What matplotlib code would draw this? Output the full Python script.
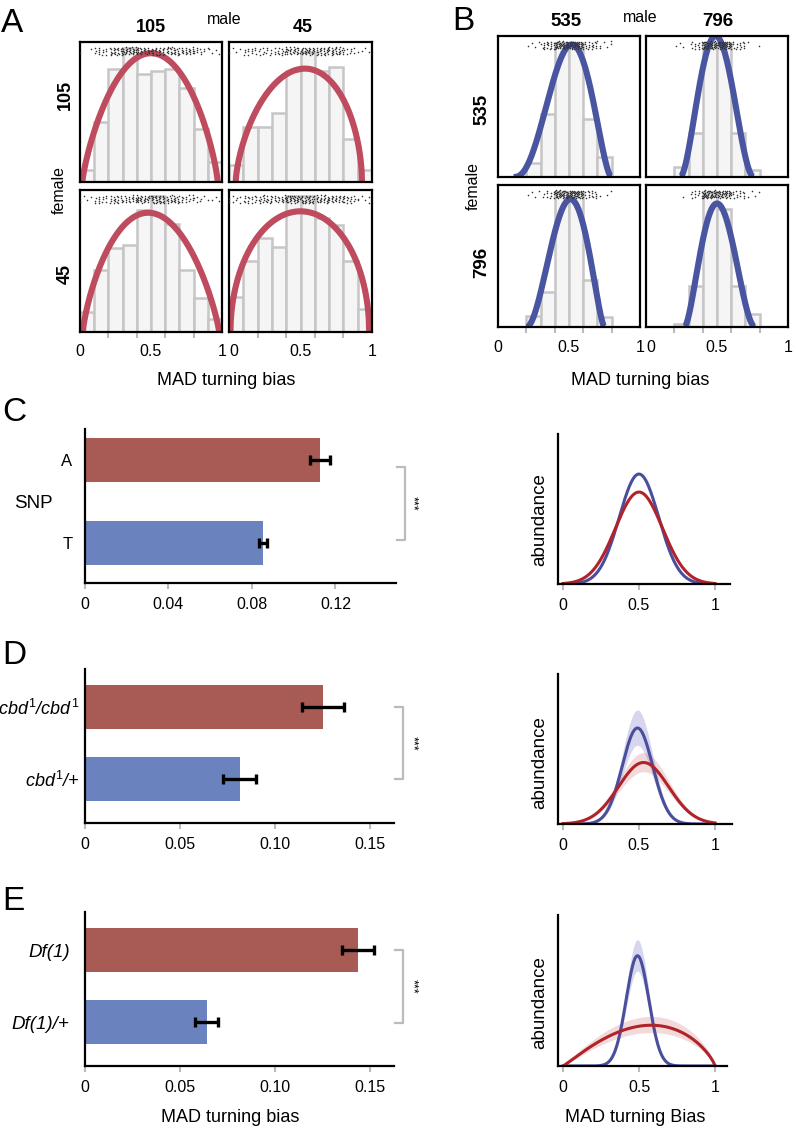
import numpy as np
import matplotlib
matplotlib.use('Agg')
import matplotlib.pyplot as plt
from matplotlib.transforms import blended_transform_factory

plt.rcParams['font.family'] = ['Liberation Sans', 'DejaVu Sans']
plt.rcParams['mathtext.fontset'] = 'custom'
plt.rcParams['mathtext.rm'] = 'Liberation Sans'
plt.rcParams['mathtext.it'] = 'Liberation Sans:italic'

W, H = 796, 1130

# ---------------- data ----------------
# histogram bins used in A and B (fraction of facet height per bin)
bin_edges = np.round(np.arange(0, 1.01, 0.1), 2)

# panel A (rows: female 105 / 45, cols: male 105 / 45)
lines_A = ['105', '45']
hist_A_105_105 = [0.083, 0.43, 0.81, 0.96, 0.77, 0.79, 0.81, 0.67, 0.38, 0.14]
hist_A_105_45 = [0.12, 0.39, 0.39, 0.49, 0.79, 0.93, 0.79, 0.82, 0.31, 0.088]
hist_A_45_105 = [0.14, 0.44, 0.59, 0.61, 0.86, 0.96, 0.76, 0.44, 0.24, 0.094]
hist_A_45_45 = [0.25, 0.50, 0.66, 0.60, 0.96, 0.96, 0.80, 0.75, 0.50, 0.16]
# fitted curve: left root, right root, mode, concentration, peak
fit_A_105_105 = (0.016, 0.97, 0.50, 0.80, 0.92)
fit_A_105_45 = (0.047, 0.93, 0.53, 0.60, 0.81)
fit_A_45_105 = (0.02, 0.98, 0.48, 0.80, 0.84)
fit_A_45_45 = (0.01, 0.98, 0.50, 0.50, 0.85)

# panel B (rows: female 535 / 796, cols: male 535 / 796)
lines_B = ['535', '796']
hist_B_535_535 = [0, 0, 0.10, 0.45, 0.95, 0.95, 0.41, 0.14, 0, 0]
hist_B_535_796 = [0, 0, 0.07, 0.31, 0.95, 0.95, 0.31, 0.05, 0, 0]
hist_B_796_535 = [0, 0, 0.08, 0.25, 0.95, 0.95, 0.33, 0.07, 0, 0]
hist_B_796_796 = [0, 0, 0.02, 0.29, 0.95, 0.83, 0.29, 0.09, 0, 0]
fit_B_535_535 = (0.11, 0.80, 0.52, 2.2, 0.94)
fit_B_535_796 = (0.24, 0.76, 0.49, 2.0, 1.00)
fit_B_796_535 = (0.20, 0.75, 0.51, 1.8, 0.90)
fit_B_796_796 = (0.27, 0.77, 0.50, 1.9, 0.87)

# panels C-E: MAD turning bias, mean and error
snp_labels = ['A', 'T']
snp_mean = [0.1126, 0.0854]
snp_err = [0.005, 0.002]

cbd_labels = [r'$cbd^{\mathit{1}}$/$cbd^{\mathit{1}}$', r'$cbd^{\mathit{1}}$/+']
cbd_mean = [0.125, 0.0814]
cbd_err = [0.011, 0.0087]

df_labels = ['Df(1)', 'Df(1)/+']
df_mean = [0.1435, 0.0639]
df_err = [0.0084, 0.0060]

# density curves (center, sd, peak as fraction of axis height)
dens_C_blue = (0.50, 0.130, 0.733)
dens_C_red = (0.50, 0.155, 0.613)
dens_D_blue = (0.49, 0.100, 0.64)
dens_D_red = (0.53, 0.165, 0.41)
dens_E_blue = (0.49, 0.074, 0.73)
dens_E_red = (0.0, 1.0, 0.58, 0.95, 0.27)   # beta-like shape
band_D = (0.18, 0.15)   # relative band width blue, red
band_E = (0.14, 0.18)

# ---------------- styles ----------------
RED_BAR = '#a85a54'
BLUE_BAR = '#6a82be'
RED_A = '#be4b5e'
BLUE_B = '#4a55a2'
BLUE_D = '#4a4e9c'
RED_D = '#b0232a'


def ax_px(l, t, r, b):
    return fig.add_axes([l / W, 1 - b / H, (r - l) / W, (b - t) / H])


def ftext(x, y, s, **kw):
    kw.setdefault('ha', 'center')
    kw.setdefault('va', 'center')
    fig.text(x / W, 1 - y / H, s, **kw)


def bump(x, l, r, m, k, peak):
    ka = k * 2 * (m - l) / (r - l)
    kb = k * 2 * (r - m) / (r - l)
    y = np.zeros_like(x)
    ins = (x > l) & (x < r)
    y[ins] = peak * ((x[ins] - l) / (m - l)) ** ka * ((r - x[ins]) / (r - m)) ** kb
    return y


def gauss(x, mu, sd, peak):
    return peak * np.exp(-(x - mu) ** 2 / (2 * sd ** 2))


def dots_from_hist(heights, per_unit):
    # one dot per observation, spread inside its bin (deterministic layout)
    xs = []
    for i, h in enumerate(heights):
        n = int(round(h * per_unit))
        if n:
            off = (np.arange(n) * 0.7548777 + 0.31 * i) % 1
            xs += list(bin_edges[i] + off * 0.1)
    xs = np.array(xs)
    jit = (np.arange(len(xs)) * 0.5698403 + 0.2) % 1
    return xs, jit


def facet(box, heights, fit, color, per_unit, bottom, col):
    ax = ax_px(*box)
    heights = np.array(heights)
    keep = heights > 0
    ax.bar(bin_edges[:-1][keep], heights[keep], width=0.1, align='edge',
           facecolor='#f5f5f5', edgecolor='#c6c6c6', lw=1.8, zorder=1)
    xc = np.linspace(fit[0], fit[1], 400)
    ax.plot(xc, bump(xc, *fit), color=color, lw=4.4, zorder=2,
            solid_capstyle='butt')
    xs, jit = dots_from_hist(heights, per_unit)
    ax.scatter(xs, 0.935 + (jit - 0.5) * 0.055, s=1.3, c='#333333', lw=0,
               zorder=3)
    ax.set_xlim(0, 1)
    ax.set_ylim(0, 1)
    for s in ax.spines.values():
        s.set_linewidth(1.6)
    ax.set_yticks([])
    if bottom:
        ax.set_xticks([0, 0.5, 1], ['0', '0.5', '1'])
        ax.set_xticks(np.arange(0, 1.01, 0.2), minor=True)
        ax.tick_params(axis='x', which='major', length=0, pad=9,
                       labelsize=11.5)
        ax.tick_params(axis='x', which='minor', length=4, width=1.5,
                       color='#bbbbbb')
        if col == 1:
            ax.get_xticklabels()[0].set_horizontalalignment('left')
    else:
        ax.set_xticks([])
    return ax


fig = plt.figure(figsize=(W / 100, H / 100), dpi=100)

# ---------------- panel A ----------------
colsA = [(80, 222), (229, 372)]
rowsA = [(42, 182), (190, 332)]
histsA = [[hist_A_105_105, hist_A_105_45], [hist_A_45_105, hist_A_45_45]]
fitsA = [[fit_A_105_105, fit_A_105_45], [fit_A_45_105, fit_A_45_45]]
for i, (t, b) in enumerate(rowsA):
    for j, (l, r) in enumerate(colsA):
        facet((l, t, r, b), histsA[i][j], fitsA[i][j], RED_A, 30, i == 1, j)
ftext(1, 23, 'A', fontsize=24, ha='left')
ftext(224, 20, 'male', fontsize=11.5)
ftext(151, 28, lines_A[0], fontsize=13, fontweight='bold')
ftext(303, 28, lines_A[1], fontsize=13, fontweight='bold')
ftext(59, 190, 'female', fontsize=11.5, rotation=90)
ftext(65, 95, lines_A[0], fontsize=13, fontweight='bold', rotation=90)
ftext(65, 274, lines_A[1], fontsize=13, fontweight='bold', rotation=90)
ftext(226, 380, 'MAD turning bias', fontsize=13)

# ---------------- panel B ----------------
colsB = [(498, 640), (646, 788)]
rowsB = [(36, 177), (185, 327)]
histsB = [[hist_B_535_535, hist_B_535_796], [hist_B_796_535, hist_B_796_796]]
fitsB = [[fit_B_535_535, fit_B_535_796], [fit_B_796_535, fit_B_796_796]]
for i, (t, b) in enumerate(rowsB):
    for j, (l, r) in enumerate(colsB):
        facet((l, t, r, b), histsB[i][j], fitsB[i][j], BLUE_B, 45, i == 1, j)
ftext(452, 22, 'B', fontsize=24, ha='left')
ftext(640, 17, 'male', fontsize=11.5)
ftext(566, 22, lines_B[0], fontsize=13.5, fontweight='bold')
ftext(718, 22, lines_B[1], fontsize=13.5, fontweight='bold')
ftext(473, 186, 'female', fontsize=11.5, rotation=90)
ftext(482, 109, lines_B[0], fontsize=13.5, fontweight='bold', rotation=90)
ftext(482, 262, lines_B[1], fontsize=13.5, fontweight='bold', rotation=90)
ftext(640, 380, 'MAD turning bias', fontsize=13)


# ---------------- panels C-E bars ----------------
def bar_panel(box, labels, means, errs, xmax, ticks, ticklabels, ylim,
              bar_h, lab_size, lab_pad, italic, bracket_y, star_x):
    ax = ax_px(*box)
    pos = [1, 0]
    ax.barh(pos, means, height=bar_h, color=[RED_BAR, BLUE_BAR], zorder=1)
    ax.errorbar(means, pos, xerr=errs, fmt='none', ecolor='black',
                elinewidth=2.4, capsize=3.5, capthick=2.4, zorder=2)
    ax.set_xlim(0, xmax)
    ax.set_ylim(*ylim)
    ax.set_yticks(pos, labels)
    for lab in ax.get_yticklabels():
        lab.set_fontsize(lab_size)
        if italic:
            lab.set_fontstyle('italic')
    ax.tick_params(axis='y', length=0, pad=lab_pad)
    ax.set_xticks(ticks, ticklabels)
    ax.tick_params(axis='x', length=4, width=1.5, color='#bbbbbb', pad=6,
                   labelsize=11.5)
    for s in ['top', 'right']:
        ax.spines[s].set_visible(False)
    for s in ['left', 'bottom']:
        ax.spines[s].set_linewidth(1.6)
    tr = blended_transform_factory(ax.transAxes, ax.transData)
    x0, x1 = 1.0 + 0.004, 1.0 + 0.030
    ax.plot([x0, x1, x1, x0], [bracket_y[0], bracket_y[0], bracket_y[1],
                               bracket_y[1]], color='#bbbbbb', lw=1.6,
            transform=tr, clip_on=False)
    ax.text(star_x, np.mean(bracket_y), '***', transform=tr, rotation=270,
            ha='center', va='center', fontsize=9)
    return ax


axC = bar_panel((85, 429, 396, 583), snp_labels, snp_mean, snp_err, 0.149,
                [0, 0.04, 0.08, 0.12], ['0', '0.04', '0.08', '0.12'],
                (-0.482, 1.373), 0.54, 12, 9, False, (0.916, 0.036), 1.051)
ftext(2, 412, 'C', fontsize=24, ha='left')
ftext(33, 503, 'SNP', fontsize=13.5)

axD = bar_panel((85, 669, 394, 823), cbd_labels, cbd_mean, cbd_err, 0.1625,
                [0, 0.05, 0.10, 0.15], ['0', '0.05', '0.10', '0.15'],
                (-0.611, 1.528), 0.61, 13, 4, True, (1.0, 0.0), 1.058)
ftext(2, 656, 'D', fontsize=24, ha='left')

axE = bar_panel((85, 912, 394, 1066), df_labels, df_mean, df_err, 0.1625,
                [0, 0.05, 0.10, 0.15], ['0', '0.05', '0.10', '0.15'],
                (-0.611, 1.528), 0.61, 13.5, 11, True, (1.0, -0.01), 1.058)
ftext(2, 901, 'E', fontsize=24, ha='left')
ftext(230, 1117, 'MAD turning bias', fontsize=13)


# ---------------- density panels ----------------
def dens_panel(box, xmax, label_y):
    ax = ax_px(*box)
    ax.set_xlim(-0.033, xmax)
    ax.set_ylim(0, 1)
    ax.set_yticks([])
    ax.set_xticks([0, 0.5, 1], ['0', '0.5', '1'])
    ax.tick_params(axis='x', length=4, width=1.5, color='#bbbbbb', pad=6,
                   labelsize=11.5)
    for s in ['top', 'right']:
        ax.spines[s].set_visible(False)
    for s in ['left', 'bottom']:
        ax.spines[s].set_linewidth(1.6)
    ftext(540, label_y, 'abundance', fontsize=13.5, rotation=90)
    return ax


xd = np.linspace(0, 1, 400)

ax = dens_panel((558, 434, 730, 584), 1.099, 520)
ax.plot(xd, gauss(xd, *dens_C_blue), color=BLUE_D, lw=2.2)
ax.plot(xd, gauss(xd, *dens_C_red), color=RED_D, lw=2.2)

ax = dens_panel((558, 674, 732, 824), 1.112, 763)
yb = gauss(xd, *dens_D_blue)
yr = gauss(xd, *dens_D_red)
ax.fill_between(xd, yr * (1 - band_D[1]), yr * (1 + band_D[1]) + 0.005,
                color='#c85a5a', alpha=0.22, lw=0)
ax.fill_between(xd, yb * (1 - band_D[0]), yb * (1 + band_D[0]) + 0.005,
                color='#7878c8', alpha=0.3, lw=0)
ax.plot(xd, yb, color=BLUE_D, lw=2.2)
ax.plot(xd, yr, color=RED_D, lw=2.2)

ax = dens_panel((558, 915, 727, 1066), 1.079, 1003)
yb = gauss(xd, *dens_E_blue)
yr = bump(xd, *dens_E_red)
ax.fill_between(xd, yr * (1 - band_E[1]), yr * (1 + band_E[1]) + 0.01,
                color='#c85a5a', alpha=0.22, lw=0)
ax.fill_between(xd, yb * (1 - band_E[0]), yb * (1 + band_E[0]) + 0.005,
                color='#7878c8', alpha=0.3, lw=0)
ax.plot(xd, yb, color=BLUE_D, lw=2.2)
ax.plot(xd, yr, color=RED_D, lw=2.2)
ftext(635, 1118, 'MAD turning Bias', fontsize=13)

fig.savefig('out.png', dpi=100)
